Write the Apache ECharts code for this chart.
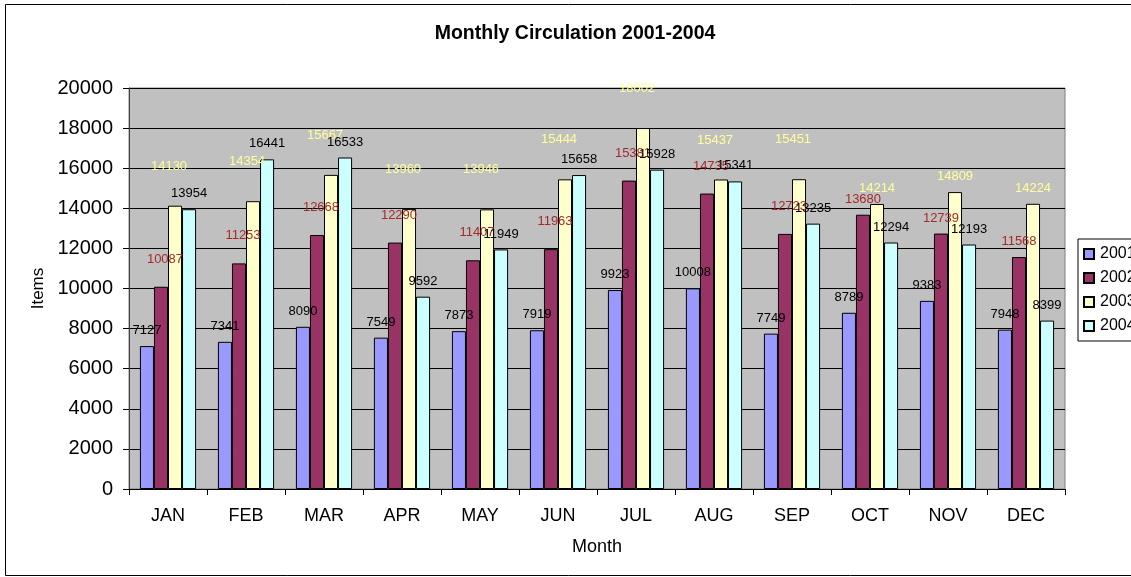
<!DOCTYPE html>
<html>
<head>
<meta charset="utf-8">
<script src="https://cdn.jsdelivr.net/npm/echarts@6/dist/echarts.min.js"></script>
<style>
html,body{margin:0;padding:0;background:#fff;}
#chart{width:1131px;height:577px;}
</style>
</head>
<body>
<div id="chart"></div>
<script>
const months = ['JAN','FEB','MAR','APR','MAY','JUN','JUL','AUG','SEP','OCT','NOV','DEC'];
const years = ['2001','2002','2003','2004'];
const y2001 = [7127, 7341, 8090, 7549, 7873, 7919, 9923, 10008, 7749, 8789, 9383, 7948];
const y2002 = [10087, 11253, 12668, 12290, 11407, 11963, 15381, 14735, 12723, 13680, 12739, 11568];
const y2003 = [14130, 14354, 15667, 13960, 13946, 15444, 18002, 15437, 15451, 14214, 14809, 14224];
const y2004 = [13954, 16441, 16533, 9592, 11949, 15658, 15928, 15341, 13235, 12294, 12193, 8399];
const yTicks = [0, 2000, 4000, 6000, 8000, 10000, 12000, 14000, 16000, 18000, 20000];

const FONT = "'Liberation Sans', Arial, sans-serif";
const seriesValues = [y2001, y2002, y2003, y2004];
const barColors = ['#9999FF', '#993366', '#FFFFCC', '#CCFFFF'];
const labelColors = ['#000000', '#A52A2A', '#FFFF99', '#000000'];
// extra label displacement Excel applied (first nine months) per series
const labelShift = [[0, 0], [4, -12], [-6, -24], [0, 0]];

const chart = echarts.init(document.getElementById('chart'), null, {renderer: 'canvas'});

const series = years.map((yr, s) => ({
  name: yr,
  type: 'bar',
  barGap: '0%',
  barCategoryGap: '28%',
  itemStyle: {color: barColors[s], borderColor: '#000', borderWidth: 1},
  label: {
    show: true, position: 'top', distance: 9,
    color: labelColors[s], fontSize: 13, fontFamily: FONT
  },
  data: seriesValues[s].map((v, i) => (i < 9 && (labelShift[s][0] || labelShift[s][1]))
    ? {value: v, label: {offset: labelShift[s]}} : v)
}));

chart.setOption({
  animation: false,
  backgroundColor: '#fff',
  textStyle: {fontFamily: FONT},
  title: {
    text: 'Monthly Circulation 2001-2004',
    left: 570, top: 19, textAlign: 'center',
    textStyle: {fontSize: 19.5, fontWeight: 'bold', color: '#000', fontFamily: FONT}
  },
  legend: {
    orient: 'vertical', left: 1078, top: 239,
    padding: [7, 40, 7, 5],
    itemWidth: 10, itemHeight: 10, itemGap: 8,
    borderColor: '#000', borderWidth: 1, backgroundColor: '#fff',
    icon: 'rect',
    textStyle: {fontSize: 16, color: '#000', fontFamily: FONT, padding: [0, 0, 0, 1]},
    data: years
  },
  grid: {
    left: 129, right: 66, top: 88, bottom: 88,
    show: true, backgroundColor: '#C0C0C0', borderColor: '#808080', borderWidth: 1
  },
  xAxis: {
    type: 'category', data: months,
    name: 'Month', nameLocation: 'middle', nameGap: 49,
    nameTextStyle: {fontSize: 18, color: '#000', fontFamily: FONT},
    axisLine: {lineStyle: {color: '#000', width: 1}},
    axisTick: {show: true, length: 6, lineStyle: {color: '#000'}},
    axisLabel: {fontSize: 18, color: '#000', margin: 18, fontFamily: FONT}
  },
  yAxis: {
    type: 'value', min: yTicks[0], max: yTicks[yTicks.length - 1], interval: yTicks[1] - yTicks[0],
    name: 'Items', nameLocation: 'middle', nameGap: 82, nameRotate: 90,
    nameTextStyle: {fontSize: 17, color: '#000', fontFamily: FONT},
    axisLine: {show: true, lineStyle: {color: '#404040', width: 1}},
    axisTick: {show: true, length: 6, lineStyle: {color: '#000'}},
    axisLabel: {fontSize: 20, color: '#000', margin: 16, fontFamily: FONT,
      formatter: v => String(v)},
    splitLine: {show: true, lineStyle: {color: '#000', width: 1}}
  },
  graphic: [{
    type: 'rect', silent: true, z: -1,
    shape: {x: 5.5, y: 4.5, width: 1200, height: 571},
    style: {fill: 'none', stroke: '#000', lineWidth: 1}
  }],
  series: series
});
</script>
</body>
</html>
